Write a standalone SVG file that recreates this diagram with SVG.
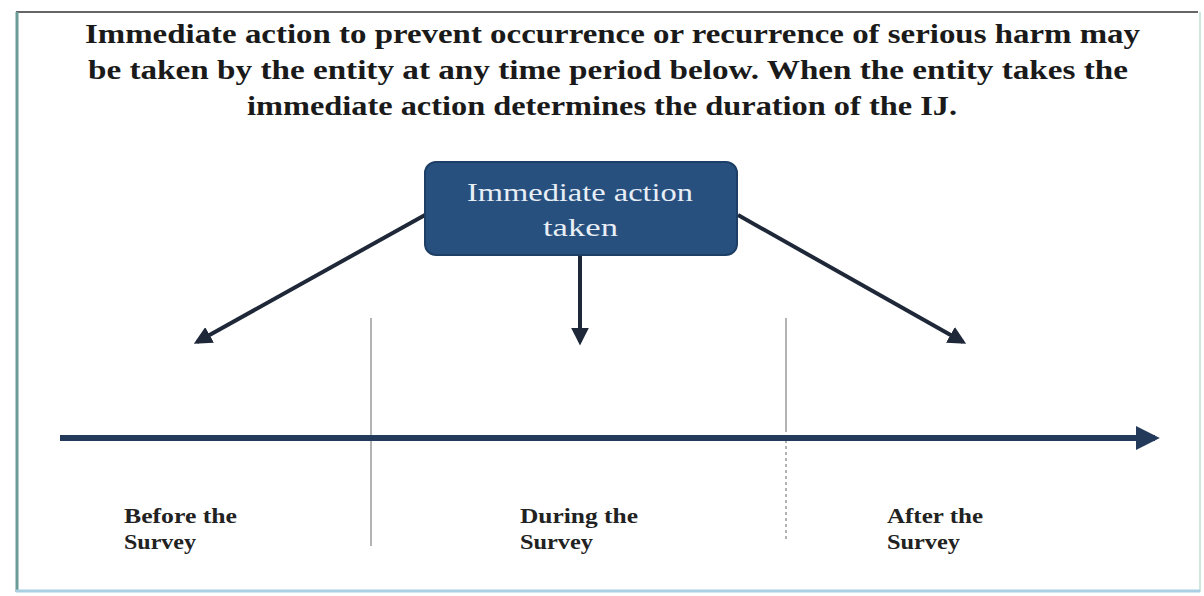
<svg xmlns="http://www.w3.org/2000/svg" width="1204" height="596" viewBox="0 0 1204 596">
<defs>
<style>
.title{font-family:"Liberation Serif",serif;font-weight:bold;font-size:28px;fill:#1a1a1a;}
.lbl{font-family:"Liberation Serif",serif;font-weight:bold;font-size:20px;fill:#222;}
.box{font-family:"Liberation Serif",serif;font-size:26px;fill:#e8eef5;}
.conn{stroke:#1e2838;stroke-width:4;fill:none;}
</style>
<marker id="ah" viewBox="0 0 10 10" refX="8" refY="5" markerWidth="4.5" markerHeight="4.5" orient="auto" markerUnits="strokeWidth">
<path d="M0,0 L10,5 L0,10 z" fill="#1e2838"/>
</marker>
<marker id="ah2" viewBox="0 0 10 10" refX="8" refY="5" markerWidth="4" markerHeight="4" orient="auto" markerUnits="strokeWidth">
<path d="M0,0 L10,5 L0,10 z" fill="#243a5a"/>
</marker>
</defs>
<rect x="0" y="0" width="1204" height="596" fill="#ffffff"/>
<g id="frame">
<line x1="16" y1="12" x2="1198" y2="12" stroke="#666" stroke-width="2"/>
<line x1="17" y1="12" x2="17" y2="592" stroke="#6a9c98" stroke-width="3"/>
<line x1="1200" y1="12" x2="1200" y2="592" stroke="#cfe8dc" stroke-width="2"/>
<line x1="16" y1="591" x2="1200" y2="591" stroke="#a9cfe2" stroke-width="3"/>
</g>
<g id="title">
<text class="title" x="85" y="43" textLength="1055" lengthAdjust="spacingAndGlyphs">Immediate action to prevent occurrence or recurrence of serious harm may</text>
<text class="title" x="88" y="79" textLength="1040" lengthAdjust="spacingAndGlyphs">be taken by the entity at any time period below.  When the entity takes the</text>
<text class="title" x="247" y="115" textLength="710" lengthAdjust="spacingAndGlyphs">immediate action determines the duration of the IJ.</text>
</g>
<g id="separators">
<line x1="371" y1="318" x2="371" y2="546" stroke="#9a9a9a" stroke-width="1.5"/>
<line x1="786" y1="318" x2="786" y2="432" stroke="#9a9a9a" stroke-width="1.5"/>
<line x1="786" y1="440" x2="786" y2="540" stroke="#9a9a9a" stroke-width="1.5" stroke-dasharray="3,3"/>
</g>
<g id="connectors">
<line class="conn" x1="425" y1="215" x2="197" y2="342" marker-end="url(#ah)"/>
<line class="conn" x1="580" y1="256" x2="580" y2="342" marker-end="url(#ah)"/>
<line class="conn" x1="738" y1="215" x2="963" y2="342" marker-end="url(#ah)"/>
<line x1="60" y1="438" x2="1155" y2="438" stroke="#243a5a" stroke-width="6" marker-end="url(#ah2)"/>
</g>
<g id="node-action">
<rect x="425" y="162" width="312" height="93" rx="11" fill="#27507f" stroke="#1d3f66" stroke-width="2"/>
<text class="box" x="467" y="201" textLength="226" lengthAdjust="spacingAndGlyphs">Immediate action</text>
<text class="box" x="543" y="236" textLength="75" lengthAdjust="spacingAndGlyphs">taken</text>
</g>
<g id="label-before">
<text class="lbl" x="124" y="523" textLength="113" lengthAdjust="spacingAndGlyphs">Before the</text>
<text class="lbl" x="124" y="549" textLength="72" lengthAdjust="spacingAndGlyphs">Survey</text>
</g>
<g id="label-during">
<text class="lbl" x="520" y="523" textLength="118" lengthAdjust="spacingAndGlyphs">During the</text>
<text class="lbl" x="520" y="549" textLength="73" lengthAdjust="spacingAndGlyphs">Survey</text>
</g>
<g id="label-after">
<text class="lbl" x="887" y="523" textLength="96" lengthAdjust="spacingAndGlyphs">After the</text>
<text class="lbl" x="887" y="549" textLength="73" lengthAdjust="spacingAndGlyphs">Survey</text>
</g>
</svg>
